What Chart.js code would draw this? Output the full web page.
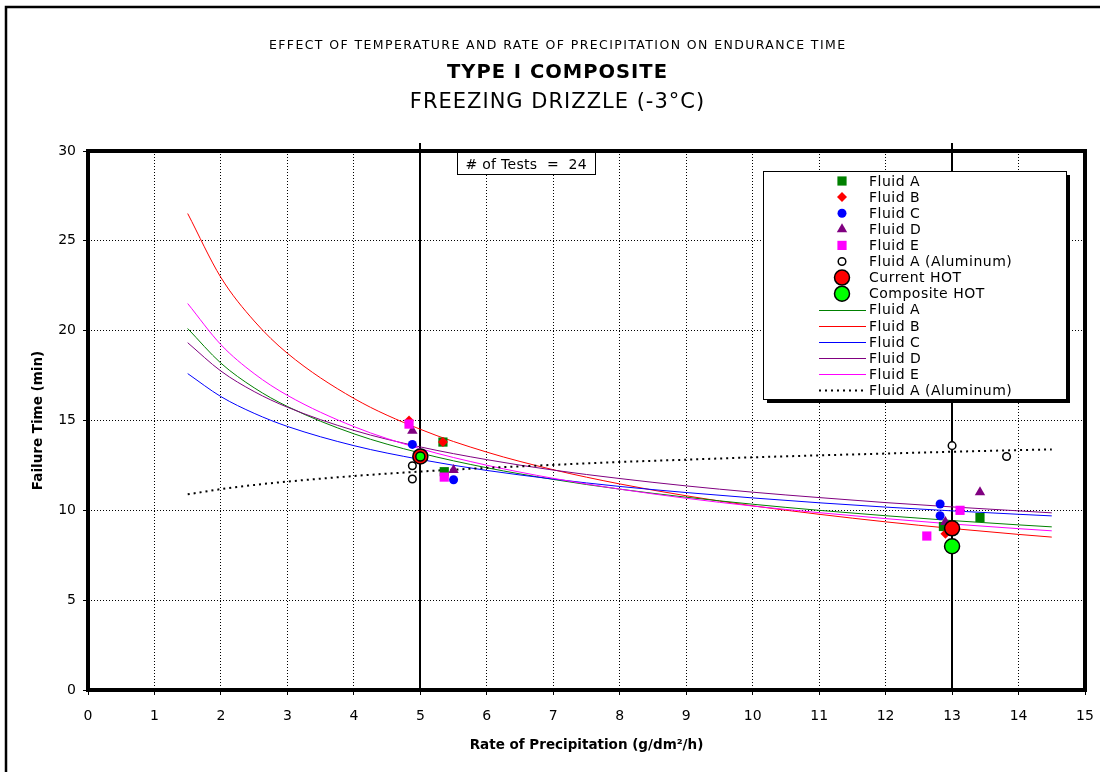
<!DOCTYPE html>
<html>
<head>
<meta charset="utf-8">
<title>Type I Composite - Freezing Drizzle</title>
<script src="https://cdn.jsdelivr.net/npm/chart.js@4.4.1/dist/chart.umd.min.js"></script>
<style>
  html, body { margin: 0; padding: 0; background: #fff; }
</style>
</head>
<body>
<canvas id="chart" width="1100" height="772"></canvas>
<script>
const FONT = '"DejaVu Sans", Verdana, sans-serif';

// Test results: [rate g/dm²/h, failure time min]
const fluidA = [[5.34, 13.8], [5.36, 12.15], [12.87, 9.1], [13.42, 9.6]];
const fluidB = [[4.83, 15.0], [5.34, 13.8], [12.9, 8.7]];
const fluidC = [[4.88, 13.67], [5.5, 11.7], [12.82, 10.35], [12.82, 9.7]];
const fluidD = [[4.88, 14.43], [5.5, 12.24], [12.9, 9.35], [13.42, 11.0]];
const fluidE = [[4.83, 14.8], [5.36, 11.85], [12.62, 8.57], [13.12, 10.0]];
const fluidAAlu = [[4.88, 12.48], [4.88, 11.74], [13.0, 13.6], [13.82, 13.0]];

// Holdover times at the two reference rates
const hotRates = [5, 13];
const currentHot = [13, 9];
const compositeHot = [13, 8];

// Trend curves sampled along the rate axis
const trendX = [1.5, 2, 2.5, 3, 4, 5, 6, 7, 8, 9, 10, 11, 12, 13, 14, 14.5];
const trendA = [20.12, 18.19, 16.82, 15.78, 14.26, 13.19, 12.37, 11.72, 11.18, 10.73, 10.34, 10.0, 9.7, 9.43, 9.19, 9.08];
const trendB = [26.52, 22.96, 20.54, 18.74, 16.23, 14.51, 13.24, 12.26, 11.47, 10.81, 10.25, 9.78, 9.36, 8.99, 8.66, 8.51];
const trendC = [17.61, 16.33, 15.4, 14.67, 13.6, 12.83, 12.22, 11.74, 11.33, 10.99, 10.69, 10.42, 10.18, 9.97, 9.78, 9.69];
const trendD = [19.33, 17.75, 16.61, 15.74, 14.45, 13.53, 12.82, 12.24, 11.77, 11.36, 11.01, 10.71, 10.43, 10.19, 9.97, 9.86];
const trendE = [21.51, 19.22, 17.61, 16.4, 14.66, 13.43, 12.51, 11.78, 11.18, 10.67, 10.24, 9.87, 9.54, 9.24, 8.98, 8.86];
const trendAlu = [10.89, 11.18, 11.41, 11.6, 11.91, 12.16, 12.36, 12.53, 12.69, 12.82, 12.95, 13.06, 13.16, 13.26, 13.35, 13.39];

const numTests = 24;

const pts = (arr) => arr.map(([x, y]) => ({ x, y }));
const curve = (ys) => trendX.map((x, i) => ({ x, y: ys[i] }));

function markerSet(label, data, style, radius, fill, border, bw, order) {
  return {
    label, data: pts(data), showLine: false, order,
    pointStyle: style, pointRadius: radius, pointHoverRadius: radius,
    backgroundColor: fill, borderColor: border, borderWidth: bw,
    kind: 'marker'
  };
}
function lineSet(label, ys, color, width, dash, order) {
  return {
    label, data: curve(ys), showLine: true, order,
    borderColor: color, backgroundColor: color, borderWidth: width, borderDash: dash,
    pointRadius: 0, cubicInterpolationMode: 'monotone', kind: 'line'
  };
}

const datasets = [
  markerSet('Fluid A', fluidA, 'rect', 6.5, '#008000', '#008000', 0, 7),
  markerSet('Fluid B', fluidB, 'rectRot', 5, '#ff0000', '#ff0000', 0, 6),
  markerSet('Fluid C', fluidC, 'circle', 4.5, '#0000ff', '#0000ff', 0, 5),
  markerSet('Fluid D', fluidD, 'triangle', 6, '#800080', '#800080', 0, 4),
  markerSet('Fluid E', fluidE, 'rect', 6.5, '#ff00ff', '#ff00ff', 0, 3),
  markerSet('Fluid A (Aluminum)', fluidAAlu, 'circle', 3.8, '#fff', '#000', 1.5, 2),
  {
    label: 'Current HOT', data: hotRates.map((x, i) => ({ x, y: currentHot[i] })),
    showLine: false, order: 1, pointStyle: 'circle', pointRadius: 7.5, pointHoverRadius: 7.5,
    backgroundColor: '#ff0000', borderColor: '#000', borderWidth: 1.5, kind: 'marker'
  },
  {
    label: 'Composite HOT', data: hotRates.map((x, i) => ({ x, y: compositeHot[i] })),
    showLine: false, order: 0, pointStyle: 'circle', pointRadius: [4.5, 7.5], pointHoverRadius: 7.5,
    backgroundColor: '#00ff00', borderColor: '#000', borderWidth: 1.5, kind: 'marker', legendRadius: 7.5
  },
  lineSet('Fluid A', trendA, '#008000', 1, [], 12),
  lineSet('Fluid B', trendB, '#ff0000', 1, [], 13),
  lineSet('Fluid C', trendC, '#0000ff', 1, [], 11),
  lineSet('Fluid D', trendD, '#800080', 1, [], 10),
  lineSet('Fluid E', trendE, '#ff00ff', 1, [], 9),
  lineSet('Fluid A (Aluminum)', trendAlu, '#000', 2, [2, 4], 8)
];

function drawMarker(ctx, style, r, x, y, fill, stroke, bw) {
  ctx.beginPath();
  if (style === 'rect') {
    const s = r * Math.SQRT1_2;
    ctx.rect(x - s, y - s, 2 * s, 2 * s);
  } else if (style === 'rectRot') {
    ctx.moveTo(x, y - r); ctx.lineTo(x + r, y); ctx.lineTo(x, y + r); ctx.lineTo(x - r, y);
    ctx.closePath();
  } else if (style === 'triangle') {
    let a = 0;
    ctx.moveTo(x + Math.sin(a) * r, y - Math.cos(a) * r);
    a += 2 * Math.PI / 3;
    ctx.lineTo(x + Math.sin(a) * r, y - Math.cos(a) * r);
    a += 2 * Math.PI / 3;
    ctx.lineTo(x + Math.sin(a) * r, y - Math.cos(a) * r);
    ctx.closePath();
  } else {
    ctx.arc(x, y, r, 0, Math.PI * 2);
  }
  ctx.fillStyle = fill;
  ctx.fill();
  if (bw) { ctx.lineWidth = bw; ctx.strokeStyle = stroke; ctx.stroke(); }
}

function spacedText(ctx, text, x, y, font, spacing) {
  ctx.font = font;
  ctx.letterSpacing = spacing + 'px';
  // trailing spacing shifts centred text; compensate
  const dx = ctx.textAlign === 'center' ? spacing / 2 : 0;
  ctx.fillText(text, x + dx, y);
  ctx.letterSpacing = '0px';
}

const decorations = {
  id: 'decorations',
  beforeDatasetsDraw(chart) {
    const { ctx, chartArea: a, scales: { x } } = chart;
    // solid reference lines at the HOT rates
    ctx.save();
    ctx.strokeStyle = '#000';
    ctx.lineWidth = 2;
    hotRates.forEach((v) => {
      const px = Math.round(x.getPixelForValue(v));
      ctx.beginPath();
      ctx.moveTo(px, a.top - 8);
      ctx.lineTo(px, a.bottom);
      ctx.stroke();
    });
    ctx.restore();
  },
  afterDraw(chart) {
    const { ctx, chartArea: a } = chart;
    ctx.save();

    // outer frame
    ctx.strokeStyle = '#000';
    ctx.lineWidth = 2.5;
    ctx.beginPath();
    ctx.moveTo(6, 772); ctx.lineTo(6, 7); ctx.lineTo(1100, 7);
    ctx.stroke();

    // heavy plot border
    ctx.lineWidth = 4;
    ctx.strokeRect(a.left, a.top, a.right - a.left, a.bottom - a.top);

    // titles
    ctx.fillStyle = '#000';
    ctx.textAlign = 'center';
    ctx.textBaseline = 'middle';
    spacedText(ctx, 'EFFECT OF TEMPERATURE AND RATE OF PRECIPITATION ON ENDURANCE TIME', 557, 46, '12.5px ' + FONT, 1.4);
    spacedText(ctx, 'TYPE I COMPOSITE', 557, 73, 'bold 19.5px ' + FONT, 1);
    spacedText(ctx, 'FREEZING DRIZZLE (-3\u00B0C)', 557, 103, '21px ' + FONT, 1);

    // test count box
    ctx.fillStyle = '#fff';
    ctx.fillRect(457, a.top + 2, 139, 21);
    ctx.lineWidth = 1;
    ctx.strokeRect(457.5, a.top + 1.5, 138, 22);
    ctx.fillStyle = '#000';
    spacedText(ctx, '# of Tests  =  ' + numTests, 526, a.top + 14, '14px ' + FONT, 0.3);

    // legend box with drop shadow
    const lx = 763, ly = 171, lw = 303, lh = 228;
    ctx.fillStyle = '#000';
    ctx.fillRect(lx + 4, ly + 4, lw, lh);
    ctx.fillStyle = '#fff';
    ctx.fillRect(lx, ly, lw, lh);
    ctx.lineWidth = 1;
    ctx.strokeStyle = '#000';
    ctx.strokeRect(lx + 0.5, ly + 0.5, lw, lh);

    ctx.textAlign = 'left';
    chart.data.datasets.forEach((ds, i) => {
      const y = 181 + i * 16.1;
      if (ds.kind === 'marker') {
        const r = ds.legendRadius || ds.pointRadius;
        drawMarker(ctx, ds.pointStyle, r, 842, y, ds.backgroundColor, ds.borderColor, ds.borderWidth);
      } else {
        ctx.beginPath();
        ctx.strokeStyle = ds.borderColor;
        ctx.lineWidth = ds.borderWidth;
        ctx.setLineDash(ds.borderDash || []);
        ctx.moveTo(819, Math.round(y) + 0.5);
        ctx.lineTo(866, Math.round(y) + 0.5);
        ctx.stroke();
        ctx.setLineDash([]);
      }
      ctx.fillStyle = '#000';
      spacedText(ctx, ds.label, 869, y + 1, '14px ' + FONT, 0.5);
    });
    ctx.restore();
  }
};

new Chart(document.getElementById('chart'), {
  type: 'scatter',
  data: { datasets },
  options: {
    responsive: false,
    animation: false,
    events: [],
    layout: { padding: { top: 151, right: 15, left: 0, bottom: 0 } },
    plugins: { legend: { display: false }, tooltip: { enabled: false } },
    scales: {
      x: {
        type: 'linear', min: 0, max: 15,
        ticks: { stepSize: 1, color: '#000', font: { family: FONT, size: 14 }, padding: 13 },
        grid: { color: '#000', lineWidth: 1, tickLength: 5, tickColor: '#000' },
        border: { display: false, dash: [1, 2] },
        title: {
          display: true, text: 'Rate of Precipitation (g/dm\u00B2/h)', color: '#000',
          font: { family: FONT, size: 13.5, weight: 'bold' }, padding: { top: 0, bottom: 18 }
        },
        afterFit: (s) => { s.height = 82; s.paddingLeft = 0; s.paddingRight = 0; }
      },
      y: {
        type: 'linear', min: 0, max: 30,
        ticks: { stepSize: 5, color: '#000', font: { family: FONT, size: 14 }, padding: 7 },
        grid: { color: '#000', lineWidth: 1, tickLength: 5, tickColor: '#000' },
        border: { display: false, dash: [1, 2] },
        title: {
          display: true, text: 'Failure Time (min)', color: '#000',
          font: { family: FONT, size: 13.5, weight: 'bold' }, padding: { top: 30, bottom: 0 }
        },
        afterFit: (s) => { s.width = 88; s.paddingTop = 0; s.paddingBottom = 0; }
      }
    }
  },
  plugins: [decorations]
});
</script>
</body>
</html>
